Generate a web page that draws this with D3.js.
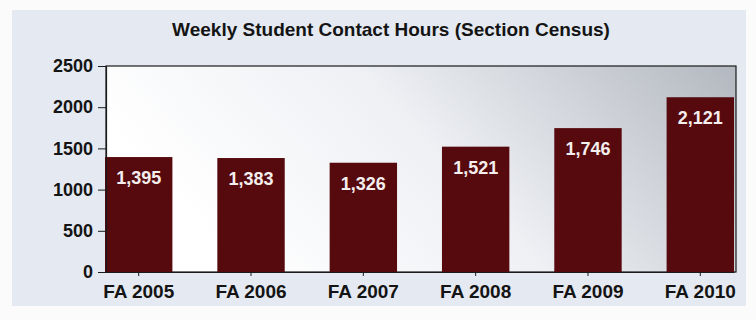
<!DOCTYPE html>
<html>
<head>
<meta charset="utf-8">
<script src="https://cdn.jsdelivr.net/npm/d3@7"></script>
<style>
  body { margin: 0; background: #fbfbfb; }
  text { font-family: "Liberation Sans", Arial, sans-serif; font-weight: bold; }
</style>
</head>
<body>
<svg id="chart" width="756" height="320"></svg>
<script>
const terms = ["FA 2005", "FA 2006", "FA 2007", "FA 2008", "FA 2009", "FA 2010"];
const hours = [1395, 1383, 1326, 1521, 1746, 2121];
const yTicks = [0, 500, 1000, 1500, 2000, 2500];
const title = "Weekly Student Contact Hours (Section Census)";

const plot = { left: 106, right: 736, top: 66, bottom: 272 };

const svg = d3.select("#chart");

// outer panel
svg.append("rect")
  .attr("x", 12).attr("y", 10)
  .attr("width", 734).attr("height", 296)
  .attr("fill", "#e5eaf2");

const defs = svg.append("defs");
const grad = defs.append("linearGradient")
  .attr("id", "plotBg")
  .attr("x1", "0").attr("y1", "0.3")
  .attr("x2", "1").attr("y2", "0");
grad.append("stop").attr("offset", "0").attr("stop-color", "#ffffff");
grad.append("stop").attr("offset", "0.45").attr("stop-color", "#eef0f4");
grad.append("stop").attr("offset", "1").attr("stop-color", "#b3b7bf");

svg.append("rect")
  .attr("x", plot.left).attr("y", plot.top)
  .attr("width", plot.right - plot.left)
  .attr("height", plot.bottom - plot.top)
  .attr("fill", "url(#plotBg)")
  .attr("stroke", "#1a1a1a")
  .attr("stroke-width", 1.2);

svg.append("text")
  .attr("x", 391).attr("y", 36)
  .attr("text-anchor", "middle")
  .attr("font-size", 19)
  .attr("fill", "#141414")
  .text(title);

const x = d3.scaleBand()
  .domain(terms)
  .range([plot.left - 1, plot.right - 2])
  .paddingInner(0.4)
  .paddingOuter(0);

const y = d3.scaleLinear()
  .domain([0, 2500])
  .range([plot.bottom, plot.top]);

// bars
svg.selectAll(".bar")
  .data(hours)
  .enter()
  .append("rect")
  .attr("class", "bar")
  .attr("x", (d, i) => x(terms[i]))
  .attr("y", d => y(d))
  .attr("width", x.bandwidth())
  .attr("height", d => y(0) - y(d))
  .attr("fill", "#560a0d");

svg.selectAll(".val")
  .data(hours)
  .enter()
  .append("text")
  .attr("class", "val")
  .attr("x", (d, i) => x(terms[i]) + x.bandwidth() / 2)
  .attr("y", d => y(d) + 27)
  .attr("text-anchor", "middle")
  .attr("font-size", 18)
  .attr("fill", "#f4eeee")
  .text(d => d3.format(",")(d));

// y axis
const yAxis = svg.append("g")
  .attr("transform", `translate(${plot.left},0)`)
  .call(d3.axisLeft(y).tickValues(yTicks).tickSize(8).tickPadding(5).tickFormat(d3.format("d")));
yAxis.select(".domain").attr("stroke", "#1a1a1a").attr("stroke-width", 1.2);
yAxis.selectAll("line").attr("stroke", "#1a1a1a");
yAxis.selectAll("text")
  .attr("font-size", 18)
  .attr("fill", "#141414")
  .style("font-family", "'Liberation Sans', Arial, sans-serif")
  .style("font-weight", "bold");

// x axis
const xAxis = svg.append("g")
  .attr("transform", `translate(0,${plot.bottom})`)
  .call(d3.axisBottom(x).tickSize(4).tickPadding(9).tickSizeOuter(0));
xAxis.select(".domain").attr("stroke", "#1a1a1a").attr("stroke-width", 1.2);
xAxis.selectAll("line").attr("stroke", "#1a1a1a");
xAxis.selectAll("text")
  .attr("font-size", 19)
  .attr("fill", "#141414")
  .style("font-family", "'Liberation Sans', Arial, sans-serif")
  .style("font-weight", "bold");
</script>
</body>
</html>
